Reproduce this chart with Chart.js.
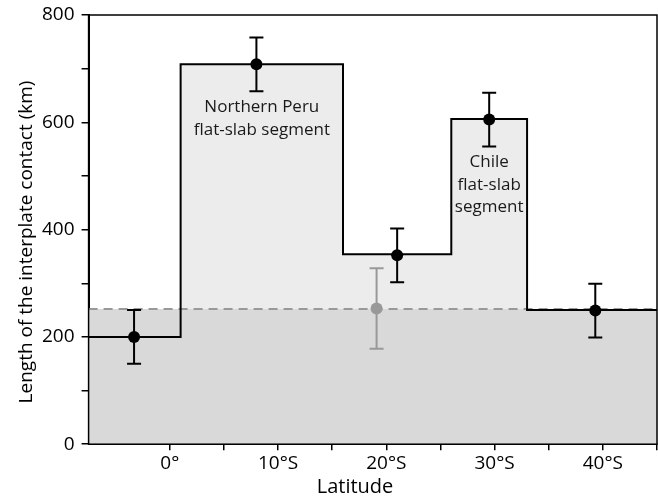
<!DOCTYPE html>
<html>
<head>
<meta charset="utf-8">
<script src="https://cdn.jsdelivr.net/npm/chart.js@4.4.1/dist/chart.umd.min.js"></script>
<style>
  html, body { margin: 0; padding: 0; background: #fff; }
  #wrap { width: 658px; height: 497px; }
</style>
</head>
<body>
<div id="wrap"><canvas id="chart"></canvas></div>
<script>
// segment edges (latitude, deg S) and the interplate contact length over each segment (km)
var segmentEdges = [-7.5, 1, 16, 26, 33, 45];
var segmentLengths = [200, 708, 354, 606, 250];

// measurements with error bars
var latitudes = [-3.3, 8, 21, 29.5, 39.3];
var lengths = [200, 708, 352, 605, 249];
var errors = [50, 50, 50, 50, 50];

// grey (alternative) measurement
var altLatitudes = [19.1];
var altLengths = [253];
var altErrors = [75];

// average / reference level (dashed)
var averageLength = 252;

var latTicks = [0, 10, 20, 30, 40];
var latLabels = ['0°', '10°S', '20°S', '30°S', '40°S'];
var lengthTicks = [0, 200, 400, 600, 800];

var FONT = "'Open Sans', 'DejaVu Sans', sans-serif";

var stepData = segmentEdges.map(function (x, i) {
    return { x: x, y: segmentLengths[Math.min(i, segmentLengths.length - 1)] };
});
var avgData = [
    { x: segmentEdges[0], y: averageLength },
    { x: segmentEdges[segmentEdges.length - 1], y: averageLength }
];
function toPoints(xs, ys) {
    return xs.map(function (x, i) { return { x: x, y: ys[i] }; });
}

var annotations = [
    { lines: ['Northern Peru', 'flat-slab segment'], lat: 8.5, len: 619, step: 23 },
    { lines: ['Chile', 'flat-slab', 'segment'], lat: 29.5, len: 516, step: 22.5 }
];

// error bars drawn with the chart's own scales
var errorBars = {
    id: 'errorBars',
    afterDatasetsDraw: function (chart) {
        var ctx = chart.ctx, xs = chart.scales.x, ys = chart.scales.y;
        chart.data.datasets.forEach(function (ds) {
            if (!ds.errors) return;
            ctx.save();
            ctx.strokeStyle = ds.barColor;
            ctx.lineWidth = ds.barWidth;
            ds.data.forEach(function (p, i) {
                var px = xs.getPixelForValue(p.x);
                var top = ys.getPixelForValue(p.y + ds.errors[i]);
                var bot = ys.getPixelForValue(p.y - ds.errors[i]);
                ctx.beginPath();
                ctx.moveTo(px, top); ctx.lineTo(px, bot);
                ctx.moveTo(px - 7, top); ctx.lineTo(px + 7, top);
                ctx.moveTo(px - 7, bot); ctx.lineTo(px + 7, bot);
                ctx.stroke();
            });
            ctx.restore();
        });
    }
};

// frame, annotations and axis titles
var extras = {
    id: 'extras',
    afterDraw: function (chart) {
        var ctx = chart.ctx, a = chart.chartArea, xs = chart.scales.x, ys = chart.scales.y;
        ctx.save();
        ctx.strokeStyle = '#000';
        ctx.lineWidth = 1.5;
        ctx.strokeRect(a.left, a.top, a.right - a.left, a.bottom - a.top);

        ctx.fillStyle = '#1a1a1a';
        ctx.font = '17px ' + FONT;
        ctx.textAlign = 'center';
        ctx.textBaseline = 'alphabetic';
        annotations.forEach(function (an) {
            var px = xs.getPixelForValue(an.lat);
            var py = ys.getPixelForValue(an.len);
            an.lines.forEach(function (t, i) { ctx.fillText(t, px, py + i * an.step); });
        });

        ctx.fillStyle = '#000';
        ctx.font = '20px ' + FONT;
        ctx.fillText('Latitude', 355, 493);

        ctx.font = '19px ' + FONT;
        ctx.translate(32, 242);
        ctx.rotate(-Math.PI / 2);
        ctx.fillText('Length of the interplate contact (km)', 0, 0);
        ctx.restore();
    }
};

new Chart(document.getElementById('chart'), {
    type: 'line',
    data: {
        datasets: [
            {
                data: toPoints(latitudes, lengths),
                errors: errors, barColor: '#000', barWidth: 2,
                showLine: false,
                pointRadius: 6, pointBackgroundColor: '#000', pointBorderWidth: 0,
                order: 0
            },
            {
                data: toPoints(altLatitudes, altLengths),
                errors: altErrors, barColor: '#999', barWidth: 2,
                showLine: false,
                pointRadius: 6, pointBackgroundColor: '#999', pointBorderWidth: 0,
                order: 1
            },
            {
                data: stepData,
                stepped: true,
                borderColor: '#000', borderWidth: 2,
                pointRadius: 0, fill: false,
                order: 2
            },
            {
                data: avgData,
                borderColor: '#999', borderWidth: 2, borderDash: [9, 6],
                backgroundColor: '#d9d9d9', fill: 'origin',
                pointRadius: 0,
                order: 3
            },
            {
                data: stepData,
                stepped: true,
                borderWidth: 0, borderColor: 'rgba(0,0,0,0)',
                backgroundColor: '#ececec', fill: 'origin',
                pointRadius: 0,
                order: 4
            }
        ]
    },
    options: {
        responsive: true,
        maintainAspectRatio: false,
        animation: false,
        layout: { autoPadding: false, padding: { left: 35, right: 1, top: 15, bottom: 20 } },
        plugins: { legend: { display: false }, tooltip: { enabled: false } },
        scales: {
            x: {
                type: 'linear',
                min: segmentEdges[0],
                max: segmentEdges[segmentEdges.length - 1],
                afterBuildTicks: function (scale) {
                    scale.ticks = scale.ticks.filter(function (t) { return t.value % 5 === 0; });
                },
                afterFit: function (scale) { scale.paddingLeft = 0; scale.paddingRight = 0; },
                ticks: {
                    stepSize: 5,
                    padding: 2,
                    color: '#000',
                    font: { family: FONT, size: 19 },
                    maxRotation: 0,
                    autoSkip: false,
                    callback: function (v) {
                        var i = latTicks.indexOf(v);
                        return i >= 0 ? latLabels[i] : '';
                    }
                },
                grid: { drawOnChartArea: false, drawTicks: true, tickLength: 6, color: '#000', lineWidth: 1.5 },
                border: { display: true, color: '#000', width: 2 }
            },
            y: {
                min: lengthTicks[0],
                max: lengthTicks[lengthTicks.length - 1],
                afterFit: function (scale) { scale.paddingTop = 0; scale.paddingBottom = 0; },
                ticks: {
                    stepSize: 100,
                    padding: 7,
                    color: '#000',
                    font: { family: FONT, size: 19 },
                    autoSkip: false,
                    callback: function (v) { return lengthTicks.indexOf(v) >= 0 ? String(v) : ''; }
                },
                grid: { drawOnChartArea: false, drawTicks: true, tickLength: 7, color: '#000', lineWidth: 1.5 },
                border: { display: true, color: '#000', width: 2 }
            }
        }
    },
    plugins: [errorBars, extras]
});
</script>
</body>
</html>
